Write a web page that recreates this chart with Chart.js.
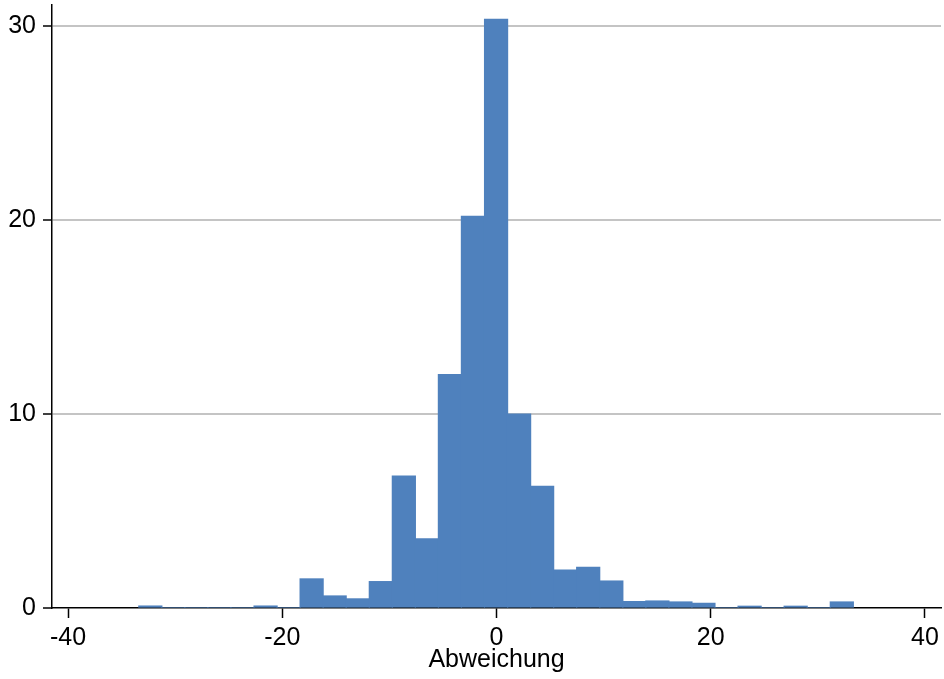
<!DOCTYPE html>
<html>
<head>
<meta charset="utf-8">
<script src="https://cdn.jsdelivr.net/npm/chart.js@4.4.1/dist/chart.umd.min.js"></script>
<style>
  html, body { margin: 0; padding: 0; background: #fff; }
  #wrap { width: 944px; height: 679px; }
</style>
</head>
<body>
<div id="wrap"><canvas id="hist"></canvas></div>
<script>
// bin centres (width ~2.15) and percent per bin
const binCenters = [-32.32, -30.17, -28.02, -25.87, -23.72, -21.56, -19.41, -17.26, -15.11, -12.96,
    -10.80, -8.65, -6.50, -4.35, -2.20, -0.04, 2.11, 4.26, 6.41, 8.56,
    10.72, 12.87, 15.02, 17.17, 19.32, 21.48, 23.63, 25.78, 27.93, 30.08, 32.24];
const percent = [0.1, 0, 0, 0, 0, 0.1, 0, 1.5, 0.62, 0.47,
    1.36, 6.8, 3.56, 12.04, 20.2, 30.36, 10.0, 6.28, 1.95, 2.1,
    1.39, 0.33, 0.36, 0.31, 0.24, 0, 0.09, 0, 0.09, 0, 0.31];
const xTicks = [-40, -20, 0, 20, 40];
const yTicks = [0, 10, 20, 30];

const font = { family: "'Liberation Sans', Arial, sans-serif", size: 25 };

const ctx = document.getElementById('hist');
const chart = new Chart(ctx, {
    type: 'bar',
    data: {
        datasets: [{
            label: 'Abweichung',
            data: binCenters.map((c, i) => ({ x: c, y: percent[i] })),
            backgroundColor: '#4f81bd',
            borderWidth: 0,
            inflateAmount: 0.6,
            barPercentage: 1.0,
            categoryPercentage: 1.0
        }]
    },
    options: {
        responsive: true,
        maintainAspectRatio: false,
        animation: false,
        layout: { padding: { top: 5, right: 3, left: 0, bottom: 0 } },
        plugins: {
            legend: { display: false },
            tooltip: { enabled: false }
        },
        scales: {
            x: {
                type: 'linear',
                offset: false,
                min: -41.5,
                max: 41.5,
                afterBuildTicks: s => { s.ticks = xTicks.map(v => ({ value: v })); },
                afterFit: s => { s.height = 71; s.paddingLeft = 0; s.paddingRight = 0; },
                grid: {
                    offset: false,
                    drawOnChartArea: false,
                    tickLength: 10,
                    tickColor: '#000',
                    tickWidth: 1.5
                },
                border: { color: '#000', width: 1.5 },
                ticks: { font: font, color: '#000', padding: 5, maxRotation: 0 },
                title: {
                    display: true,
                    text: 'Abweichung',
                    font: font,
                    color: '#000',
                    padding: { top: 0, bottom: 4 }
                }
            },
            y: {
                min: 0,
                max: 31.1,
                afterBuildTicks: s => { s.ticks = yTicks.map(v => ({ value: v })); },
                afterFit: s => { s.width = 52; s.paddingTop = 0; s.paddingBottom = 0; },
                grid: {
                    color: c => (c.tick && c.tick.value === 0) ? 'rgba(0,0,0,0)' : '#c4c4c4',
                    lineWidth: 2,
                    tickLength: 9,
                    tickColor: '#000',
                    tickWidth: 1.5
                },
                border: { color: '#000', width: 1.5 },
                ticks: { font: font, color: '#000', padding: 7 }
            }
        }
    }
});
</script>
</body>
</html>
